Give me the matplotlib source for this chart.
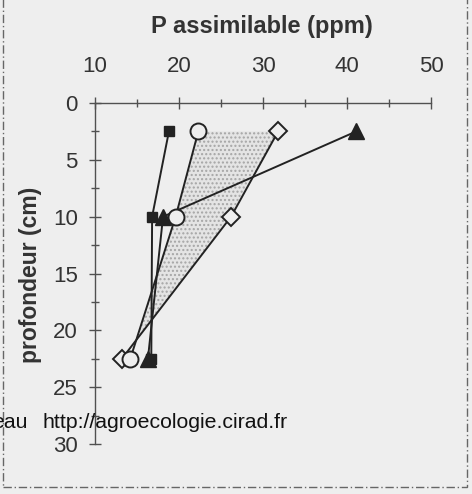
import matplotlib
matplotlib.use("Agg")
import matplotlib.pyplot as plt
from matplotlib.patches import Rectangle
import numpy as np

plt.rcParams['font.family'] = ['Liberation Sans', 'DejaVu Sans']

# Sampling depths (cm) and available P (ppm) for each profile
depth = [2.5, 10, 22.5]
p_square = [18.8, 16.8, 16.7]
p_triangle = [41.1, 18.1, 16.3]
p_circle = [22.3, 19.6, 14.2]
p_diamond = [31.8, 26.2, 13.2]

x_ticks = [10, 20, 30, 40, 50]
y_ticks = [0, 5, 10, 15, 20, 25, 30]

bg = '#eeeeee'
ink = '#222222'
axis_col = '#505050'
label_col = '#333333'

fig = plt.figure(figsize=(4.72, 4.94), dpi=100, facecolor=bg)
ax = fig.add_axes([95 / 472, 1 - 444 / 494, 336 / 472, 341 / 494])
ax.set_facecolor('none')

# shaded band between the circle and diamond profiles
d = np.array(depth)
ax.fill_betweenx(d, p_circle, p_diamond, where=np.array(p_circle) < np.array(p_diamond),
                 interpolate=True, facecolor='#e4e4e4', edgecolor='#a5a5a5',
                 hatch='....', linewidth=0, zorder=1)

lw = 1.4
ax.plot(p_square, depth, color=ink, lw=lw, marker='s', ms=6.5,
        mfc=ink, mec=ink, zorder=3)
ax.plot(p_triangle, depth, color=ink, lw=lw, marker='^', ms=11.5,
        mfc=ink, mec=ink, zorder=4)
ax.plot(p_diamond, depth, color=ink, lw=lw, marker='D', ms=9,
        mfc=bg, mec=ink, mew=1.4, zorder=5)
ax.plot(p_circle, depth, color=ink, lw=lw, marker='o', ms=11.5,
        mfc=bg, mec=ink, mew=1.4, zorder=6)

ax.set_xlim(10, 50)
ax.set_ylim(30, 0)

for s in ('right', 'bottom'):
    ax.spines[s].set_visible(False)
for s in ('left', 'top'):
    ax.spines[s].set_color(axis_col)
    ax.spines[s].set_linewidth(1.0)

ax.xaxis.tick_top()
ax.set_xticks(x_ticks)
ax.set_xticks([15, 25, 35, 45], minor=True)
ax.set_yticks(y_ticks)
ax.set_yticks([2.5, 7.5, 12.5, 17.5, 22.5, 27.5], minor=True)
ax.tick_params(axis='both', which='major', direction='inout', length=9,
               width=1.0, color=axis_col, labelcolor=label_col, labelsize=16)
ax.tick_params(axis='both', which='minor', direction='inout', length=6,
               width=1.0, color=axis_col)
ax.tick_params(axis='x', which='major', pad=14)
ax.tick_params(axis='y', which='major', pad=8)

fig.text(262 / 472, 1 - 26 / 494, 'P assimilable (ppm)', ha='center', va='center',
         fontsize=17, fontweight='bold', color=label_col)
fig.text(31 / 472, 1 - 275 / 494, 'profondeur (cm)', ha='center', va='center',
         rotation=90, fontsize=16.5, fontweight='bold', color=label_col)

# web address overprinted across the lower part
fig.text(28 / 472, 1 - 422 / 494, 'eau', ha='right', va='center',
         fontsize=15.3, color='#111111')
fig.text(43 / 472, 1 - 422 / 494, 'http://agroecologie.cirad.fr', ha='left',
         va='center', fontsize=15.3, color='#111111')

# dashed frame around the figure
fig.add_artist(Rectangle((3 / 472, 1 - 487 / 494), 464 / 472, 490 / 494,
                         transform=fig.transFigure, fill=False,
                         edgecolor='#666666', lw=1.0, ls=(0, (6, 2, 1, 2))))

fig.savefig('out.png', dpi=100, facecolor=bg)
